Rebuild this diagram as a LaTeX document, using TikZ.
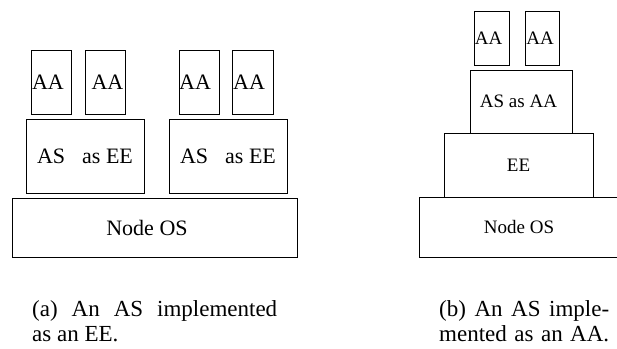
\documentclass[tikz,border=0pt]{standalone}
\usepackage{fontspec}
\setmainfont{Liberation Serif}
\begin{document}
\begin{tikzpicture}[x=1pt,y=-1pt,
  blk/.style={draw=black,line width=0.8pt,inner sep=0pt,anchor=center},
  fa/.style={font=\fontsize{22}{26}\selectfont},
  fb/.style={font=\fontsize{19}{23}\selectfont},
  captxt/.style={anchor=base west,inner sep=0pt,font=\fontsize{23}{27}\selectfont}]
\useasboundingbox (0,0) rectangle (617,348);
\clip (0,0) rectangle (617,348);
% (a)
\node[blk,fa,minimum width=40pt,minimum height=64pt] (aa1) at (51,82) {\hspace*{-6pt}AA};
\node[blk,fa,minimum width=40pt,minimum height=64pt] (aa2) at (105,82) {\hspace*{5pt}AA};
\node[blk,fa,minimum width=40pt,minimum height=64pt] (aa3) at (199,82) {\hspace*{-8pt}AA};
\node[blk,fa,minimum width=41pt,minimum height=64pt] (aa4) at (252.5,82) {\hspace*{-7pt}AA};
\node[blk,fa,minimum width=118pt,minimum height=74pt] (as1) at (85,156) {AS\hspace{17pt}as EE};
\node[blk,fa,minimum width=118pt,minimum height=74pt] (as2) at (228,156) {AS\hspace{17pt}as EE};
\node[blk,fa,minimum width=285pt,minimum height=59pt] (osa) at (154.5,227.5) {\hspace*{-15pt}Node OS};
% (b)
\node[blk,fb,minimum width=35pt,minimum height=54pt] (aa5) at (491.5,38) {\hspace*{-6pt}AA};
\node[blk,fb,minimum width=34pt,minimum height=54pt] (aa6) at (542,38) {\hspace*{-4pt}AA};
\node[blk,fb,minimum width=102pt,minimum height=63pt] (asaa) at (521,101.5) {\hspace*{-5pt}AS as AA};
\node[blk,fb,minimum width=149pt,minimum height=64pt] (ee) at (518.5,165) {EE};
\node[blk,fb,minimum width=200pt,minimum height=60pt] (osb) at (519,227) {Node OS};
% captions
\node[captxt] (capa1) at (32,316) {\makebox[245pt][s]{(a) An AS implemented}};
\node[captxt] (capa2) at (32,341) {as an EE.};
\node[captxt] (capb1) at (439,316) {\makebox[170pt][s]{(b) An AS imple-}};
\node[captxt] (capb2) at (439,341) {\makebox[170pt][s]{mented as an AA.}};
\end{tikzpicture}
\end{document}
